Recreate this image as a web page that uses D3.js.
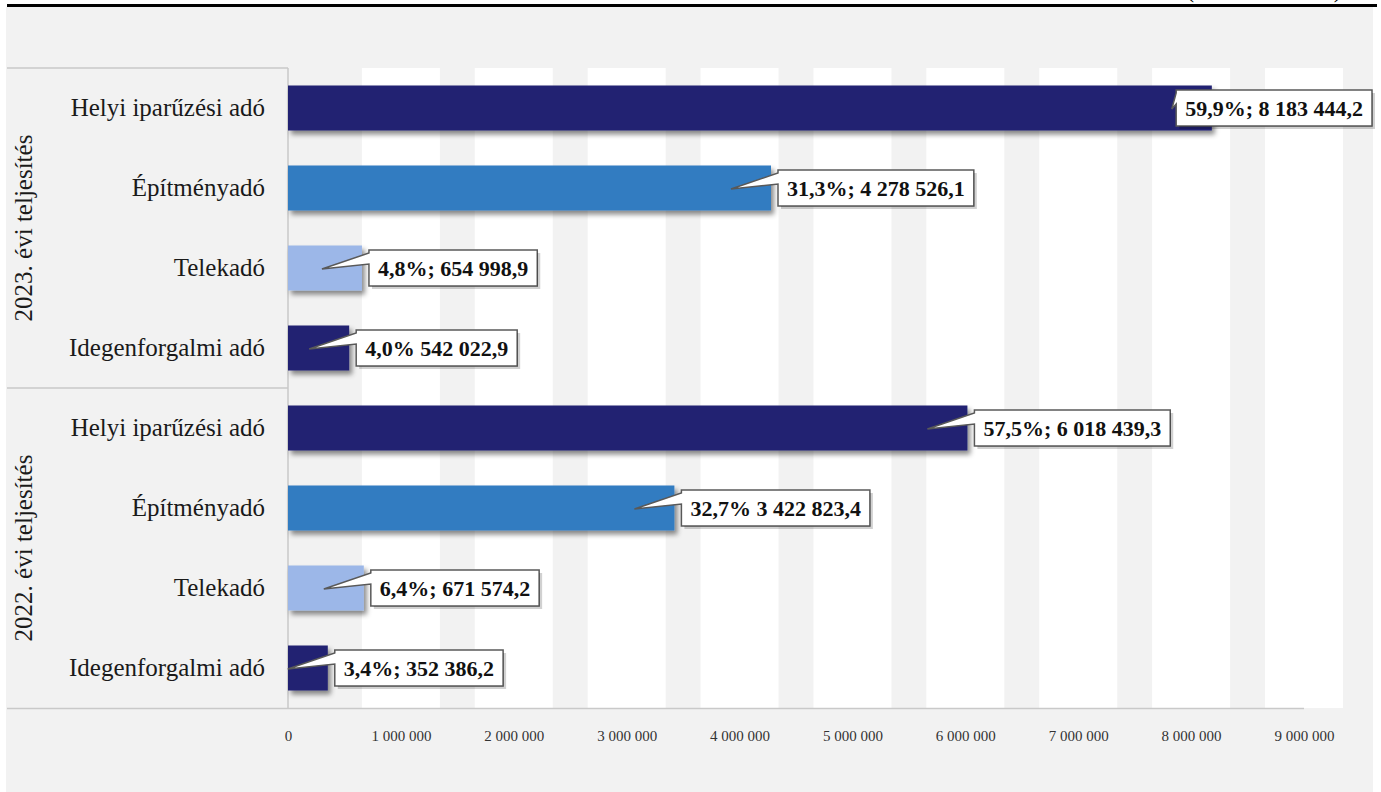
<!DOCTYPE html>
<html>
<head>
<meta charset="utf-8">
<script src="https://cdn.jsdelivr.net/npm/d3@7"></script>
<style>
  body { margin: 0; background: #ffffff; }
  svg { display: block; }
</style>
</head>
<body>
<div id="graf"></div>
<script>
// adatok
groups = ['2023. évi teljesítés', '2022. évi teljesítés']
categories = ['Helyi iparűzési adó', 'Építményadó', 'Telekadó', 'Idegenforgalmi adó']
values2023 = [8183444.2, 4278526.1, 654998.9, 542022.9]
values2022 = [6018439.3, 3422823.4, 671574.2, 352386.2]
labels2023 = ['59,9%; 8 183 444,2', '31,3%; 4 278 526,1', '4,8%; 654 998,9', '4,0% 542 022,9']
labels2022 = ['57,5%; 6 018 439,3', '32,7% 3 422 823,4', '6,4%; 671 574,2', '3,4%; 352 386,2']
ticks = [0, 1000000, 2000000, 3000000, 4000000, 5000000, 6000000, 7000000, 8000000, 9000000]
colors = ['#202372', '#337bc1', '#9cb7e8', '#202372']

ancho_total = 1381
alto_total = 792
serif = "'Liberation Serif', 'DejaVu Serif', serif"

rows = []
groups.forEach((g, gi) => {
  vals = gi == 0 ? values2023 : values2022
  labs = gi == 0 ? labels2023 : labels2022
  categories.forEach((c, ci) => {
    rows.push({ key: gi + '-' + ci, group: g, gi: gi, cat: c, ci: ci, value: vals[ci], label: labs[ci] })
  })
})

svg = d3.select('#graf').append('svg')
  .attr('width', ancho_total)
  .attr('height', alto_total)

defs = svg.append('defs')
defs.append('filter')
  .attr('id', 'sombra')
  .attr('x', '-10%').attr('y', '-20%').attr('width', '130%').attr('height', '160%')
  .append('feDropShadow')
  .attr('dx', 3).attr('dy', 4).attr('stdDeviation', 2.5)
  .attr('flood-color', '#000').attr('flood-opacity', 0.45)

// fondo
svg.append('rect')
  .attr('x', 6).attr('y', 7)
  .attr('width', 1367).attr('height', 785)
  .attr('fill', '#f2f2f2')

// linea superior y texto cortado (como en el original)
svg.append('text')
  .attr('x', 1342).attr('y', -3)
  .attr('text-anchor', 'end')
  .attr('font-family', serif)
  .attr('font-size', 25)
  .attr('fill', '#000')
  .text('(ezer forintban)')
svg.append('line')
  .attr('x1', 7).attr('x2', 1377)
  .attr('y1', 5.5).attr('y2', 5.5)
  .attr('stroke', '#000').attr('stroke-width', 3)

x = d3.scaleLinear().domain([0, 9000000]).range([288, 1304])
y = d3.scaleBand()
  .domain(rows.map(d => d.key))
  .range([68, 708])
  .paddingInner(0.4375)
  .paddingOuter(0.21875)
step = y.step()

// bandas blancas
svg.append('g').selectAll('rect')
  .data(ticks.slice(1))
  .join('rect')
  .attr('x', d => x(d) - 39)
  .attr('width', 78)
  .attr('y', 68)
  .attr('height', 640)
  .attr('fill', '#ffffff')

// lineas de la caja de categorias
lineas = svg.append('g').attr('stroke', '#c9c9c9').attr('stroke-width', 1.5)
lineas.append('line').attr('x1', 7).attr('x2', 288).attr('y1', 68).attr('y2', 68)
lineas.append('line').attr('x1', 7).attr('x2', 288).attr('y1', 68 + 4 * step).attr('y2', 68 + 4 * step)
lineas.append('line').attr('x1', 7).attr('x2', x(9000000)).attr('y1', 708.5).attr('y2', 708.5)
lineas.append('line').attr('x1', 288).attr('x2', 288).attr('y1', 68).attr('y2', 708.5)

// barras
svg.append('g').selectAll('rect')
  .data(rows)
  .join('rect')
  .attr('x', x(0))
  .attr('y', d => y(d.key))
  .attr('width', d => x(d.value) - x(0))
  .attr('height', y.bandwidth())
  .attr('fill', d => colors[d.ci])
  .attr('filter', 'url(#sombra)')

// etiquetas de categoria
svg.append('g').selectAll('text')
  .data(rows)
  .join('text')
  .attr('x', 265)
  .attr('y', d => y(d.key) + y.bandwidth() / 2)
  .attr('dy', '0.32em')
  .attr('text-anchor', 'end')
  .attr('font-family', serif)
  .attr('font-size', 25)
  .attr('fill', '#1a1a1a')
  .text(d => d.cat)

// etiquetas de grupo
svg.append('g').selectAll('text')
  .data(groups)
  .join('text')
  .attr('transform', (d, i) => `translate(32, ${68 + step * (4 * i + 2)}) rotate(-90)`)
  .attr('text-anchor', 'middle')
  .attr('font-family', serif)
  .attr('font-size', 25)
  .attr('fill', '#1a1a1a')
  .text(d => d)

// eje x
xAxis = svg.append('g')
  .attr('transform', 'translate(0, 727)')
  .call(d3.axisBottom(x).tickValues(ticks).tickSize(0)
    .tickFormat(d => d3.format(',')(d).replace(/,/g, ' ')))
xAxis.select('.domain').remove()
xAxis.selectAll('text')
  .attr('font-family', serif)
  .attr('font-size', 15)
  .attr('fill', '#333')

// etiquetas con globo
callouts = svg.append('g')
rows.forEach(d => {
  yc = y(d.key) + y.bandwidth() / 2
  xe = x(d.value)
  g = callouts.append('g')
  t = g.append('text')
    .attr('font-family', serif)
    .attr('font-size', 22)
    .attr('font-weight', 'bold')
    .attr('fill', '#111')
    .attr('text-anchor', 'middle')
    .attr('dy', '0.35em')
    .text(d.label)
  w = t.node().getComputedTextLength() + 18
  h = 36
  bx = Math.min(xe + 7, 1372 - w)
  by = yc - 18
  tx = xe - 40
  ty = yc + 1
  // forma: rectangulo + punta
  p = d3.path()
  p.moveTo(bx, by)
  p.lineTo(bx + w, by)
  p.lineTo(bx + w, by + h)
  p.lineTo(bx, by + h)
  p.lineTo(bx, by + 14)
  p.lineTo(tx, ty)
  p.lineTo(bx, by + 3)
  p.closePath()
  g.insert('path', 'text')
    .attr('d', p.toString())
    .attr('fill', '#ffffff')
    .attr('stroke', '#595959')
    .attr('stroke-width', 1.5)
  g.insert('path', 'text')
    .attr('d', `M${bx + w},${by + 3}L${bx + w + 3},${by + 3}L${bx + w + 3},${by + h + 3}L${bx + 3},${by + h + 3}L${bx + 3},${by + h}L${bx + w},${by + h}Z`)
    .attr('fill', '#000').attr('fill-opacity', 0.18)
  t.attr('x', bx + w / 2).attr('y', yc)
})
</script>
</body>
</html>
